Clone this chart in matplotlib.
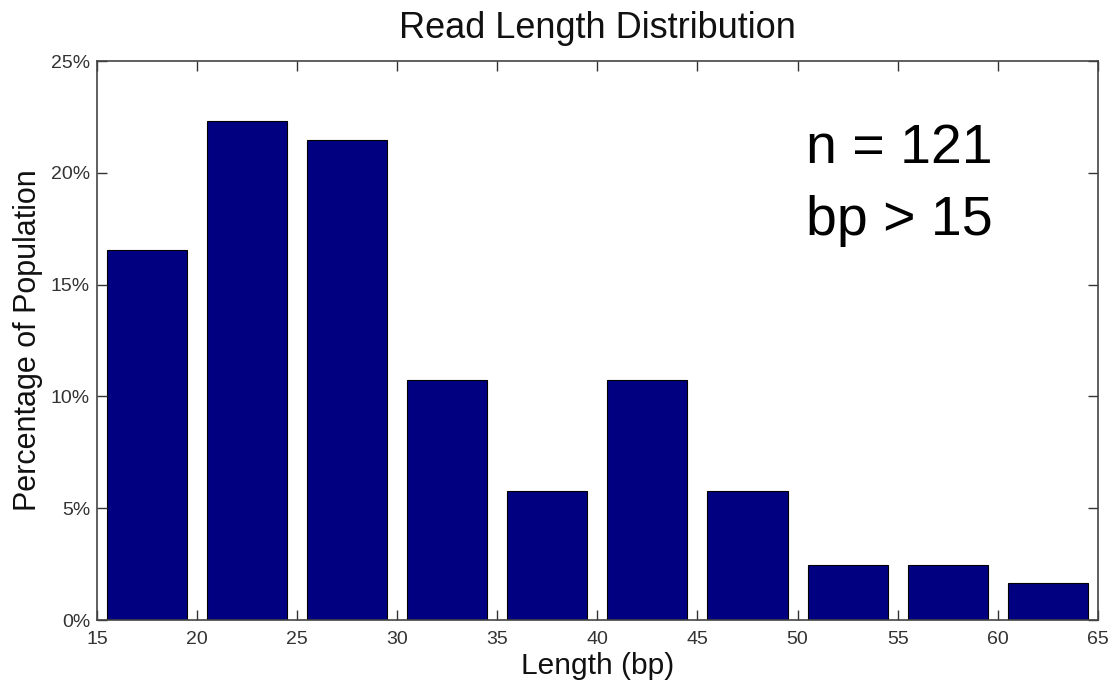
import matplotlib
matplotlib.use("Agg")
import matplotlib.pyplot as plt
from matplotlib.ticker import FuncFormatter

# bin centres (bp) and share of reads per bin (%), n = 121
bin_centers = [17.5, 22.5, 27.5, 32.5, 37.5, 42.5, 47.5, 52.5, 57.5, 62.5]
percentages = [16.53, 22.31, 21.49, 10.74, 5.79, 10.74, 5.79, 2.48, 2.48, 1.65]
x_ticks = [15, 20, 25, 30, 35, 40, 45, 50, 55, 60, 65]
y_ticks = [0, 5, 10, 15, 20, 25]

plt.rcParams["font.family"] = ["Liberation Sans", "DejaVu Sans"]

fig = plt.figure(figsize=(11.1, 6.87), dpi=100)
ax = fig.add_axes([0.0874, 0.0975, 0.9016, 0.8135])

ax.bar(bin_centers, percentages, width=4, color="#000080",
       edgecolor="black", linewidth=0.8)

ax.set_xlim(15, 65)
ax.set_ylim(0, 25)
ax.set_xticks(x_ticks)
ax.set_yticks(y_ticks)
ax.yaxis.set_major_formatter(FuncFormatter(lambda v, _: f"{v:.0f}%"))
ax.tick_params(direction="in", top=True, right=True, length=7,
               labelsize=14, colors="#333333", width=1)
ax.tick_params(axis="x", pad=8)
ax.tick_params(axis="y", pad=5)
for spine in ax.spines.values():
    spine.set_color("#444444")
    spine.set_linewidth(1.2)

ax.set_title("Read Length Distribution", fontsize=26, pad=17, color="#111111")
ax.set_xlabel("Length (bp)", fontsize=21.5, labelpad=3, color="#111111")
ax.set_ylabel("Percentage of Population", fontsize=22, labelpad=6,
              color="#111111")

ax.text(0.708, 0.818, "n = 121", transform=ax.transAxes,
        fontsize=40, va="baseline", ha="left")
ax.text(0.708, 0.689, "bp > 15", transform=ax.transAxes,
        fontsize=40, va="baseline", ha="left")

fig.savefig("out.png", dpi=100)
